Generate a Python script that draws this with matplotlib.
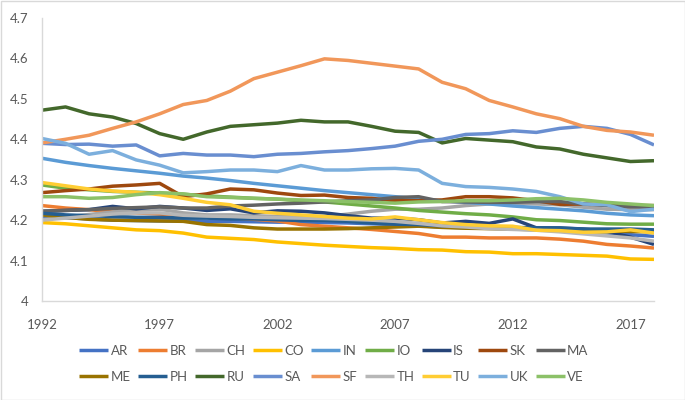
import matplotlib
matplotlib.use("Agg")
import matplotlib.pyplot as plt
from matplotlib.ticker import FuncFormatter, FixedLocator
from matplotlib.patches import Rectangle

years = list(range(1992, 2019))

AR = [4.209, 4.206, 4.203, 4.200, 4.199, 4.198, 4.198, 4.197, 4.197, 4.196, 4.195, 4.195, 4.194, 4.193, 4.191, 4.189, 4.186, 4.183, 4.181, 4.180, 4.179, 4.178, 4.177, 4.172, 4.168, 4.164, 4.160]
BR = [4.236, 4.230, 4.226, 4.220, 4.218, 4.215, 4.211, 4.208, 4.206, 4.202, 4.198, 4.189, 4.185, 4.181, 4.177, 4.172, 4.167, 4.158, 4.158, 4.156, 4.156, 4.156, 4.153, 4.148, 4.140, 4.136, 4.131]
CH = [4.201, 4.208, 4.214, 4.220, 4.226, 4.227, 4.218, 4.213, 4.213, 4.211, 4.209, 4.209, 4.209, 4.215, 4.222, 4.227, 4.227, 4.230, 4.236, 4.240, 4.242, 4.240, 4.238, 4.232, 4.227, 4.226, 4.226]
CO = [4.194, 4.191, 4.186, 4.181, 4.176, 4.174, 4.168, 4.158, 4.155, 4.152, 4.146, 4.142, 4.138, 4.135, 4.132, 4.130, 4.127, 4.126, 4.122, 4.121, 4.117, 4.117, 4.115, 4.113, 4.111, 4.104, 4.103]
IN = [4.353, 4.343, 4.335, 4.328, 4.322, 4.316, 4.309, 4.304, 4.298, 4.291, 4.285, 4.279, 4.273, 4.268, 4.263, 4.258, 4.253, 4.248, 4.244, 4.240, 4.235, 4.231, 4.227, 4.223, 4.217, 4.213, 4.211]
IO = [4.287, 4.279, 4.275, 4.271, 4.269, 4.267, 4.264, 4.260, 4.257, 4.254, 4.252, 4.248, 4.245, 4.240, 4.235, 4.230, 4.224, 4.220, 4.216, 4.213, 4.208, 4.201, 4.199, 4.195, 4.191, 4.190, 4.190]
IS = [4.222, 4.224, 4.226, 4.234, 4.228, 4.234, 4.230, 4.224, 4.228, 4.218, 4.223, 4.222, 4.218, 4.211, 4.205, 4.205, 4.201, 4.193, 4.197, 4.192, 4.203, 4.181, 4.180, 4.178, 4.172, 4.158, 4.140]
SK = [4.268, 4.273, 4.277, 4.284, 4.287, 4.291, 4.258, 4.265, 4.277, 4.275, 4.267, 4.261, 4.262, 4.256, 4.254, 4.248, 4.248, 4.250, 4.258, 4.258, 4.255, 4.248, 4.239, 4.240, 4.238, 4.236, 4.236]
MA = [4.222, 4.224, 4.226, 4.229, 4.231, 4.233, 4.230, 4.230, 4.235, 4.237, 4.240, 4.242, 4.245, 4.248, 4.250, 4.256, 4.258, 4.246, 4.245, 4.244, 4.244, 4.246, 4.246, 4.240, 4.236, 4.233, 4.233]
ME = [4.213, 4.207, 4.202, 4.200, 4.199, 4.198, 4.197, 4.189, 4.187, 4.181, 4.178, 4.178, 4.178, 4.179, 4.181, 4.183, 4.185, 4.182, 4.180, 4.179, 4.178, 4.176, 4.175, 4.174, 4.173, 4.172, 4.171]
PH = [4.217, 4.213, 4.211, 4.209, 4.207, 4.207, 4.205, 4.205, 4.203, 4.203, 4.201, 4.199, 4.199, 4.197, 4.193, 4.190, 4.189, 4.186, 4.185, 4.182, 4.182, 4.181, 4.181, 4.178, 4.178, 4.178, 4.176]
RU = [4.472, 4.480, 4.463, 4.455, 4.439, 4.414, 4.400, 4.418, 4.432, 4.436, 4.440, 4.447, 4.443, 4.443, 4.432, 4.420, 4.417, 4.391, 4.402, 4.398, 4.394, 4.381, 4.376, 4.363, 4.354, 4.345, 4.347]
SA = [4.390, 4.387, 4.388, 4.383, 4.386, 4.359, 4.365, 4.361, 4.361, 4.357, 4.363, 4.365, 4.369, 4.372, 4.377, 4.383, 4.395, 4.400, 4.412, 4.414, 4.421, 4.417, 4.427, 4.432, 4.427, 4.412, 4.386]
SF = [4.391, 4.400, 4.410, 4.427, 4.443, 4.463, 4.486, 4.496, 4.519, 4.550, 4.566, 4.582, 4.599, 4.595, 4.588, 4.581, 4.574, 4.541, 4.525, 4.496, 4.480, 4.463, 4.451, 4.432, 4.422, 4.418, 4.410]
TH = [4.200, 4.205, 4.210, 4.215, 4.218, 4.218, 4.212, 4.210, 4.209, 4.207, 4.206, 4.205, 4.204, 4.202, 4.200, 4.197, 4.192, 4.186, 4.183, 4.179, 4.177, 4.175, 4.171, 4.166, 4.161, 4.156, 4.148]
TU = [4.293, 4.285, 4.277, 4.272, 4.269, 4.263, 4.254, 4.244, 4.238, 4.222, 4.217, 4.213, 4.209, 4.205, 4.203, 4.208, 4.201, 4.194, 4.189, 4.186, 4.185, 4.175, 4.174, 4.170, 4.171, 4.176, 4.168]
UK = [4.402, 4.390, 4.363, 4.372, 4.349, 4.336, 4.317, 4.320, 4.324, 4.324, 4.320, 4.335, 4.324, 4.324, 4.327, 4.328, 4.324, 4.291, 4.283, 4.281, 4.277, 4.271, 4.258, 4.240, 4.238, 4.221, 4.227]
VE = [4.258, 4.258, 4.254, 4.256, 4.263, 4.268, 4.265, 4.258, 4.256, 4.254, 4.252, 4.250, 4.248, 4.246, 4.244, 4.242, 4.245, 4.246, 4.248, 4.248, 4.250, 4.253, 4.254, 4.250, 4.244, 4.240, 4.236]

names = ["AR", "BR", "CH", "CO", "IN", "IO", "IS", "SK", "MA",
         "ME", "PH", "RU", "SA", "SF", "TH", "TU", "UK", "VE"]
series = [AR, BR, CH, CO, IN, IO, IS, SK, MA, ME, PH, RU, SA, SF, TH, TU, UK, VE]
colors = ["#4472C4", "#ED7D31", "#A5A5A5", "#FFC000", "#5B9BD5", "#70AD47",
          "#264478", "#9E480E", "#636363", "#997300", "#255E91", "#43682B",
          "#698ED0", "#F1975A", "#B7B7B7", "#FFCD33", "#7CAFDD", "#8CC168"]

xticks = [1992, 1997, 2002, 2007, 2012, 2017]
yticks = [4.0, 4.1, 4.2, 4.3, 4.4, 4.5, 4.6, 4.7]

plt.rcParams['font.family'] = ['Lato', 'DejaVu Sans']

fig = plt.figure(figsize=(6.85, 4.0), dpi=100)
ax = fig.add_axes([42/685, 1 - 301/400, (654 - 42)/685, (301 - 18)/400])

handles = []
for name, vals, c in zip(names, series, colors):
    h, = ax.plot(years, vals, color=c, lw=2.5, solid_joinstyle='round',
                 solid_capstyle='butt', label=name)
    handles.append(h)

ax.set_xlim(1992, 2018)
ax.set_ylim(4.0, 4.7)
ax.xaxis.set_major_locator(FixedLocator(xticks))
ax.yaxis.set_major_locator(FixedLocator(yticks))
ax.yaxis.set_major_formatter(FuncFormatter(lambda v, p: f"{v:g}"))
ax.tick_params(axis='both', length=0, labelsize=9.5, labelcolor='#595959')
ax.tick_params(axis='x', pad=13)
ax.tick_params(axis='y', pad=10)
for s in ['top', 'right']:
    ax.spines[s].set_visible(False)
for s in ['left', 'bottom']:
    ax.spines[s].set_color('#D9D9D9')
    ax.spines[s].set_linewidth(1.0)

# order legend row-wise (matplotlib fills columns first)
nc = 9
order = []
for col in range(nc):
    for row in range(2):
        order.append(row * nc + col)
leg = fig.legend([handles[i] for i in order], [names[i] for i in order],
                 ncol=nc, loc='upper left', bbox_to_anchor=(79/685, 1 - 345/400),
                 frameon=False, fontsize=9.5, handlelength=2.2, handletextpad=0.2,
                 columnspacing=0.55, labelspacing=1.05, borderaxespad=0, borderpad=0)
for t in leg.get_texts():
    t.set_color('#595959')

fig.patches.append(Rectangle((0.5/685, 0.5/400), 1 - 1/685, 1 - 1/400,
                             transform=fig.transFigure, fill=False,
                             edgecolor='#D9D9D9', lw=1.0))

fig.savefig("out.png", dpi=100)
